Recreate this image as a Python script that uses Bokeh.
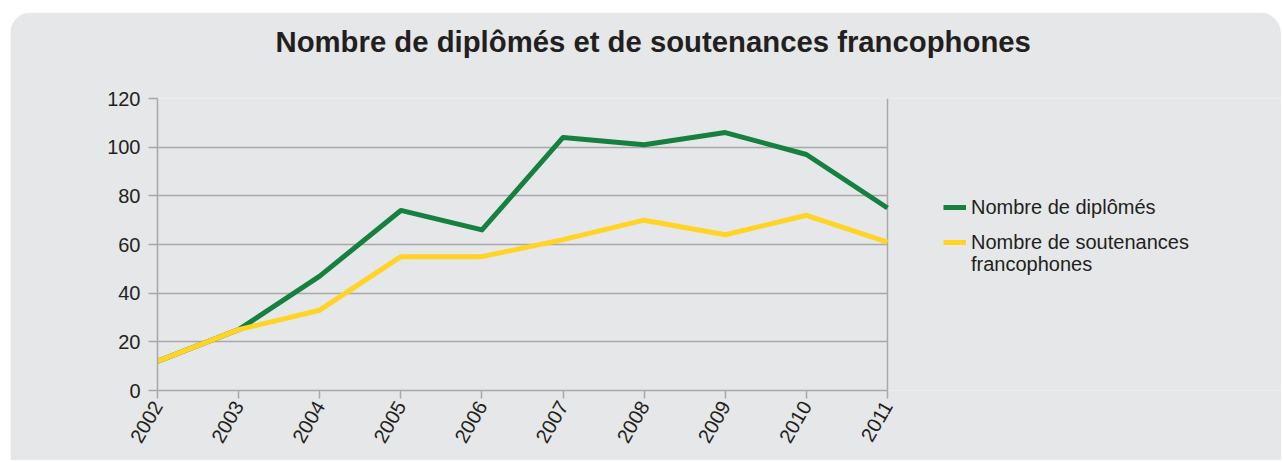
from bokeh.plotting import figure
from bokeh.models import (Range1d, FixedTicker, Legend, LegendItem, Span, Title)
from bokeh.embed import file_html
from bokeh.resources import INLINE
import math

years = [2002, 2003, 2004, 2005, 2006, 2007, 2008, 2009, 2010, 2011]
diplomes = [12, 25, 47, 74, 66, 104, 101, 106, 97, 75]
soutenances = [12, 25, 33, 55, 55, 62, 70, 64, 72, 61]
y_ticks = [0, 20, 40, 60, 80, 100, 120]

title_text = "Nombre de diplômés et de soutenances francophones"
label_dipl = "Nombre de diplômés"
label_sout_1 = "Nombre de soutenances"
label_sout_2 = "francophones"

BG = "#e6e7e8"
GRID = "#a7a8aa"
GREEN = "#15803f"
YELLOW = "#ffd424"
FONT = "Liberation Sans"
TXT = "#231f20"

W, H = 1271, 448
LEFT, TOP, BOTTOM = 147, 86, 70
PLOT_W = 730                      # pixel width of the 2002..2011 span
FRAME_W = W - LEFT                # frame extends to the right edge (legend area)
x_end = years[0] + (years[-1] - years[0]) * FRAME_W / PLOT_W

p = figure(width=W, height=H, output_backend="svg", toolbar_location=None,
           x_range=Range1d(years[0], x_end), y_range=Range1d(0, 120),
           min_border_left=LEFT, min_border_right=0,
           min_border_top=TOP, min_border_bottom=BOTTOM)
p.margin = (12, 0, 0, 10)
p.styles = {"border-radius": "22px 22px 0 0", "overflow": "hidden"}

p.background_fill_color = BG
p.border_fill_color = BG
p.outline_line_color = None

spacer = Title(text=" ", text_font_size="1px", standoff=38)
p.add_layout(spacer, "above")
t = Title(text=title_text, align="left", offset=118, standoff=0,
          vertical_align="bottom",
          text_font=FONT, text_font_size="29.3px", text_font_style="bold",
          text_color=TXT)
p.add_layout(t, "above")

# axes
p.xaxis.ticker = FixedTicker(ticks=years)
p.yaxis.ticker = FixedTicker(ticks=y_ticks)
p.xaxis.bounds = (years[0], years[-1])
for ax in (p.xaxis[0], p.yaxis[0]):
    ax.axis_line_color = GRID
    ax.axis_line_width = 1.5
    ax.major_tick_line_color = GRID
    ax.major_tick_line_width = 1.5
    ax.major_tick_in = 0
    ax.minor_tick_line_color = None
    ax.major_label_text_font = FONT
    ax.major_label_text_font_size = "20px"
    ax.major_label_text_color = TXT
p.yaxis.major_tick_out = 9
p.yaxis.major_label_standoff = 8
p.xaxis.major_tick_out = 8
p.xaxis.major_label_standoff = 4
p.xaxis.major_label_orientation = math.pi / 3

p.xgrid.grid_line_color = None
p.ygrid.grid_line_color = GRID
p.ygrid.grid_line_width = 1.5
p.ygrid.cross_bounds = (years[0], years[-1])

right_edge = Span(location=years[-1], dimension="height", line_color=GRID,
                  line_width=1.5, level="underlay")
p.add_layout(right_edge)

r1 = p.line(years, diplomes, line_color=GREEN, line_width=5, line_join="round")
r2 = p.line(years, soutenances, line_color=YELLOW, line_width=5, line_join="round")


def make_legend(items, loc, glyph_w, standoff):
    lg = Legend(items=items, location=loc, orientation="vertical")
    lg.border_line_color = None
    lg.background_fill_alpha = 0
    lg.padding = 0
    lg.margin = 0
    lg.spacing = 12
    lg.glyph_width = glyph_w
    lg.glyph_height = 20
    lg.label_standoff = standoff
    lg.label_text_font = FONT
    lg.label_text_font_size = "20px"
    lg.label_text_color = TXT
    return lg


legend_a = make_legend([LegendItem(label=label_dipl, renderers=[r1]),
                        LegendItem(label=label_sout_1, renderers=[r2])],
                       (786, 136.5), 23, 5)
legend_b = make_legend([LegendItem(label=label_sout_2, renderers=[r2])],
                       (786, 114), 0, 28)
p.add_layout(legend_a, "center")
p.add_layout(legend_b, "center")

open("out.html", "w").write(file_html(p, INLINE))
